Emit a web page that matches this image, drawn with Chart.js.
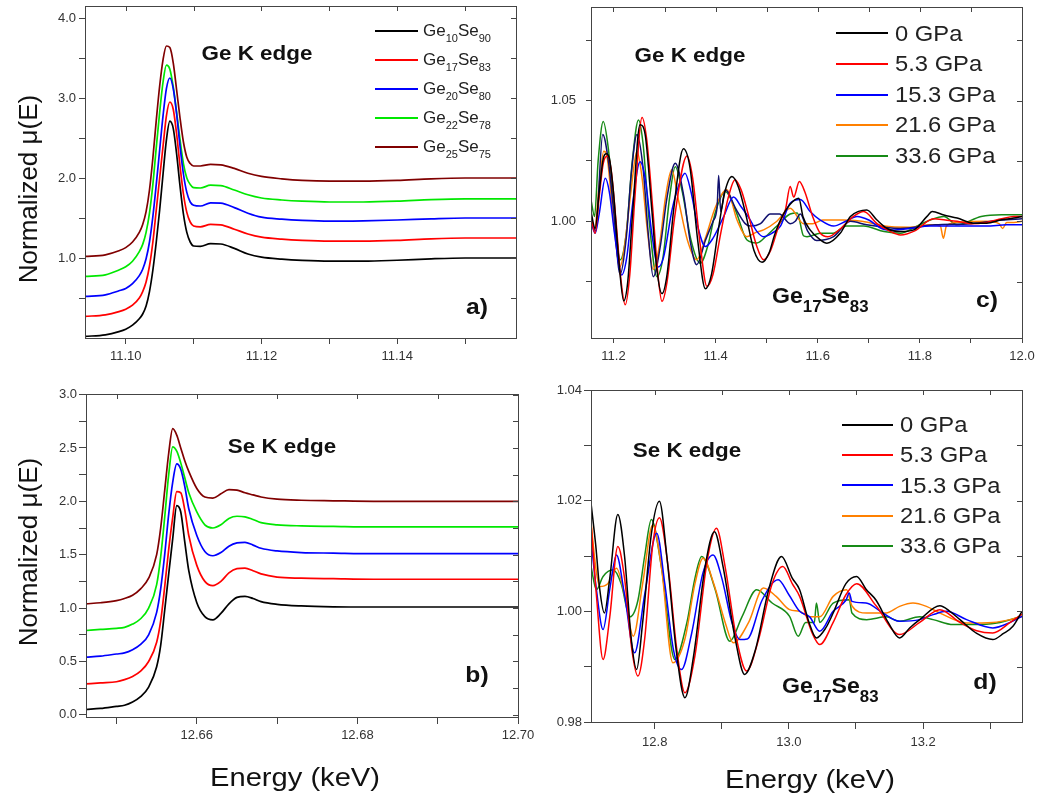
<!DOCTYPE html>
<html><head><meta charset="utf-8">
<script src="https://cdn.jsdelivr.net/npm/chart.js@4.4.1/dist/chart.umd.min.js"></script>
<style>
body{margin:0;background:#fff;}
#wrap{position:relative;width:1039px;height:795px;overflow:hidden;background:#fff;font-family:'Liberation Sans',Arial,Helvetica,sans-serif;}
canvas{position:absolute;left:0;top:0;}
.t{position:absolute;white-space:nowrap;color:#111;line-height:1;}
.c{transform:translate(-50%,-50%) scaleX(1.12);}
.b{font-weight:bold;}
.ytitle{font-size:26px;transform:translate(-50%,-50%) rotate(-90deg);}
.xtitle{font-size:26px;transform:translate(-50%,-50%) scaleX(1.12);}
.sub{line-height:0;}
.lg{position:absolute;height:2px;}
</style></head><body><div id="wrap">
<canvas id="ca" width="1039" height="795"></canvas>
<canvas id="cd" width="1039" height="795"></canvas>
<canvas id="cc" width="1039" height="795"></canvas>
<canvas id="cb" width="1039" height="795"></canvas>
</div>
<script>
const FONT = "'Liberation Sans', Arial, Helvetica, sans-serif";

// ---------------- Panel a: Ge K edge XANES ----------------
const aEnergy = [11.094, 11.097, 11.099, 11.100, 11.101, 11.102, 11.1025, 11.103, 11.1035, 11.104, 11.1045, 11.105, 11.1055, 11.106, 11.1065, 11.107, 11.1075, 11.108, 11.1085, 11.109, 11.1095, 11.110, 11.111, 11.1125, 11.114, 11.116, 11.118, 11.120, 11.123, 11.126, 11.130, 11.135, 11.140, 11.145, 11.150, 11.1575];
const aGe10Se90 = [0.02, 0.04, 0.08, 0.11, 0.16, 0.24, 0.30, 0.40, 0.58, 0.85, 1.20, 1.60, 2.05, 2.48, 2.71, 2.62, 2.30, 1.90, 1.55, 1.32, 1.20, 1.15, 1.145, 1.18, 1.175, 1.12, 1.05, 1.01, 0.985, 0.97, 0.96, 0.96, 0.972, 0.99, 1.0, 1.0];
const aGe17Se83 = [0.27, 0.29, 0.33, 0.36, 0.41, 0.50, 0.58, 0.70, 0.90, 1.20, 1.60, 2.00, 2.40, 2.78, 2.95, 2.86, 2.55, 2.15, 1.80, 1.57, 1.45, 1.40, 1.39, 1.42, 1.415, 1.36, 1.30, 1.26, 1.235, 1.22, 1.21, 1.21, 1.22, 1.24, 1.25, 1.25];
const aGe20Se80 = [0.52, 0.54, 0.59, 0.62, 0.68, 0.78, 0.86, 0.99, 1.20, 1.52, 1.92, 2.35, 2.78, 3.12, 3.25, 3.12, 2.80, 2.40, 2.05, 1.82, 1.70, 1.66, 1.65, 1.69, 1.685, 1.63, 1.56, 1.51, 1.485, 1.47, 1.46, 1.465, 1.475, 1.49, 1.50, 1.50];
const aGe22Se78 = [0.77, 0.79, 0.85, 0.89, 0.96, 1.08, 1.17, 1.32, 1.56, 1.92, 2.38, 2.82, 3.20, 3.41, 3.36, 3.14, 2.82, 2.48, 2.18, 2.00, 1.92, 1.88, 1.875, 1.91, 1.905, 1.85, 1.79, 1.75, 1.725, 1.71, 1.70, 1.70, 1.71, 1.73, 1.74, 1.74];
const aGe25Se75 = [1.02, 1.04, 1.09, 1.13, 1.20, 1.32, 1.42, 1.58, 1.85, 2.25, 2.72, 3.15, 3.48, 3.65, 3.63, 3.44, 3.10, 2.75, 2.45, 2.26, 2.18, 2.15, 2.15, 2.17, 2.165, 2.12, 2.06, 2.02, 1.99, 1.97, 1.96, 1.96, 1.97, 1.99, 2.0, 2.0];
const aXMajor = [11.10, 11.12, 11.14], aXMinor = [11.11, 11.13, 11.15];
const aYMajor = [1.0, 2.0, 3.0, 4.0], aYMinor = [0.5, 1.5, 2.5, 3.5];

// ---------------- Panel b: Se K edge XANES ----------------
const bEnergy = [12.6462, 12.648, 12.650, 12.651, 12.652, 12.653, 12.654, 12.655, 12.6555, 12.656, 12.6565, 12.657, 12.6575, 12.658, 12.6585, 12.659, 12.660, 12.661, 12.662, 12.663, 12.664, 12.665, 12.666, 12.667, 12.668, 12.670, 12.673, 12.677, 12.682, 12.690, 12.700];
const bGe10Se90 = [0.05, 0.06, 0.08, 0.09, 0.12, 0.17, 0.26, 0.45, 0.65, 0.98, 1.32, 1.65, 1.96, 1.90, 1.62, 1.35, 1.05, 0.92, 0.89, 0.95, 1.04, 1.10, 1.11, 1.09, 1.06, 1.035, 1.02, 1.012, 1.01, 1.01, 1.01];
const bGe17Se83 = [0.29, 0.30, 0.31, 0.33, 0.36, 0.41, 0.50, 0.68, 0.88, 1.20, 1.55, 1.85, 2.09, 2.08, 1.92, 1.68, 1.40, 1.25, 1.21, 1.25, 1.33, 1.37, 1.375, 1.35, 1.32, 1.29, 1.28, 1.275, 1.27, 1.27, 1.27];
const bGe20Se80 = [0.54, 0.55, 0.57, 0.58, 0.61, 0.66, 0.75, 0.96, 1.18, 1.50, 1.88, 2.18, 2.35, 2.30, 2.14, 1.93, 1.68, 1.53, 1.49, 1.52, 1.58, 1.61, 1.615, 1.59, 1.56, 1.535, 1.52, 1.515, 1.51, 1.51, 1.51];
const bGe22Se78 = [0.79, 0.80, 0.81, 0.82, 0.85, 0.90, 1.00, 1.22, 1.48, 1.85, 2.25, 2.51, 2.47, 2.36, 2.22, 2.08, 1.90, 1.78, 1.75, 1.78, 1.84, 1.86, 1.855, 1.83, 1.80, 1.78, 1.77, 1.765, 1.76, 1.76, 1.76];
const bGe25Se75 = [1.04, 1.05, 1.07, 1.09, 1.12, 1.18, 1.28, 1.50, 1.75, 2.10, 2.45, 2.68, 2.62, 2.50, 2.38, 2.28, 2.12, 2.04, 2.03, 2.07, 2.11, 2.105, 2.08, 2.06, 2.04, 2.02, 2.01, 2.005, 2.0, 2.0, 2.0];
const bXMajor = [12.66, 12.68, 12.70], bXMinor = [12.65, 12.67, 12.69];
const bYMajor = [0.0, 0.5, 1.0, 1.5, 2.0, 2.5, 3.0], bYMinor = [0.25, 0.75, 1.25, 1.75, 2.25, 2.75];

const compGe = [10, 17, 20, 22, 25];
const compSe = [90, 83, 80, 78, 75];
const xanesColors = ['#000000', '#ff0000', '#0000ff', '#00e800', '#800000'];

// ---------------- Panel c: Ge K edge EXAFS, Ge17Se83 vs pressure ----------------
const c0GPa = [[11.156,1.004],[11.164,0.997],[11.172,1.012],[11.18,1.026],[11.186,1.028],[11.192,1.026],[11.2,1.012],[11.21,0.985],[11.22,0.967],[11.228,0.975],[11.238,1.005],[11.252,1.040],[11.262,1.036],[11.275,1.005],[11.285,0.980],[11.295,0.970],[11.305,0.978],[11.318,1.005],[11.337,1.030],[11.35,1.022],[11.365,0.992],[11.38,0.972],[11.392,0.978],[11.405,0.996],[11.418,1.012],[11.432,1.0185],[11.445,1.014],[11.46,1.002],[11.475,0.988],[11.491,0.983],[11.505,0.987],[11.515,0.994],[11.527,1.0005],[11.546,1.007],[11.563,1.0095],[11.571,1.002],[11.585,0.9964],[11.605,0.9923],[11.618,0.9909],[11.644,0.995],[11.664,1.002],[11.68,1.0041],[11.696,1.0047],[11.716,1.0005],[11.736,0.997],[11.762,0.9957],[11.788,0.9964],[11.814,1.002],[11.824,1.004],[11.847,1.0026],[11.873,1.0013],[11.905,0.9992],[11.931,0.9992],[11.958,1.0005],[11.984,1.0013],[12.0,1.002]];
const c5GPa = [[11.156,1.002],[11.164,0.995],[11.172,1.010],[11.18,1.024],[11.188,1.027],[11.195,1.022],[11.205,1.000],[11.215,0.975],[11.223,0.9654],[11.232,0.978],[11.242,1.010],[11.256,1.043],[11.265,1.034],[11.277,1.005],[11.287,0.978],[11.295,0.9668],[11.305,0.975],[11.32,1.002],[11.344,1.027],[11.355,1.018],[11.37,0.990],[11.383,0.973],[11.395,0.978],[11.41,0.995],[11.425,1.010],[11.438,1.0172],[11.45,1.013],[11.465,1.002],[11.48,0.990],[11.494,0.984],[11.508,0.988],[11.525,0.999],[11.537,1.005],[11.546,1.0144],[11.553,1.010],[11.564,1.0165],[11.575,1.012],[11.59,1.002],[11.605,0.995],[11.62,0.9936],[11.645,0.997],[11.67,1.002],[11.69,1.004],[11.716,0.999],[11.74,0.996],[11.762,0.9943],[11.79,0.996],[11.827,1.001],[11.85,1.0005],[11.873,1.0],[11.9,0.999],[11.93,0.9995],[11.96,1.001],[11.984,1.002],[12.0,1.002]];
const c15GPa = [[11.156,1.000],[11.164,0.995],[11.172,1.003],[11.184,1.0178],[11.192,1.012],[11.202,0.995],[11.216,0.9777],[11.226,0.985],[11.238,1.008],[11.252,1.0247],[11.262,1.018],[11.275,0.995],[11.288,0.981],[11.298,0.985],[11.315,1.005],[11.328,1.015],[11.34,1.0199],[11.352,1.012],[11.366,0.997],[11.38,0.9895],[11.395,0.993],[11.416,1.002],[11.435,1.010],[11.45,1.006],[11.468,1.0005],[11.48,0.996],[11.494,0.9936],[11.51,0.995],[11.527,0.998],[11.546,1.0075],[11.566,1.009],[11.585,1.004],[11.605,1.0005],[11.631,0.998],[11.655,1.0],[11.677,1.002],[11.7,1.0005],[11.725,0.997],[11.745,0.9964],[11.78,0.997],[11.82,0.998],[11.873,0.998],[11.93,0.998],[11.97,0.9985],[12.0,0.9985]];
const c21GPa = [[11.156,1.000],[11.163,0.997],[11.172,1.015],[11.181,1.029],[11.188,1.026],[11.2,1.000],[11.213,0.9812],[11.222,0.990],[11.234,1.012],[11.246,1.029],[11.256,1.018],[11.267,0.995],[11.278,0.980],[11.29,0.990],[11.302,1.010],[11.314,1.0213],[11.327,1.009],[11.345,0.992],[11.363,0.984],[11.38,0.993],[11.4,1.006],[11.422,1.013],[11.442,1.0005],[11.461,0.9936],[11.48,0.9955],[11.494,0.9964],[11.52,1.000],[11.546,1.0054],[11.572,0.999],[11.59,0.999],[11.61,1.0005],[11.65,1.0005],[11.7,0.9995],[11.73,0.998],[11.78,0.9975],[11.82,0.9985],[11.84,0.998],[11.846,0.9929],[11.852,0.998],[11.873,0.9995],[11.93,1.0],[11.955,0.999],[11.962,0.997],[11.97,0.9995],[11.984,0.9995],[12.0,1.0]];
const c33GPa = [[11.156,1.0088],[11.163,1.002],[11.17,1.025],[11.18,1.0413],[11.19,1.030],[11.2,1.008],[11.213,0.984],[11.225,0.995],[11.237,1.025],[11.249,1.042],[11.258,1.032],[11.27,1.000],[11.285,0.977],[11.297,0.985],[11.31,1.010],[11.321,1.0226],[11.335,1.012],[11.352,0.992],[11.37,0.9826],[11.385,0.990],[11.4,1.004],[11.419,1.0123],[11.44,1.004],[11.461,0.9923],[11.481,0.991],[11.5,0.994],[11.52,0.998],[11.546,1.003],[11.56,1.0034],[11.572,0.994],[11.579,0.9936],[11.605,0.995],[11.63,0.995],[11.656,0.998],[11.69,0.998],[11.73,0.9957],[11.762,0.9950],[11.79,0.9975],[11.82,1.0005],[11.847,1.002],[11.873,0.9985],[11.92,1.002],[11.96,1.0027],[12.0,1.0027]];
const cUnlabelled = [[11.156,1.001],[11.165,0.996],[11.179,1.036],[11.19,1.025],[11.2,1.005],[11.213,0.978],[11.225,0.993],[11.235,1.020],[11.246,1.036],[11.258,1.022],[11.268,0.995],[11.278,0.977],[11.292,0.990],[11.305,1.010],[11.321,1.024],[11.338,1.010],[11.35,0.992],[11.363,0.982],[11.38,0.992],[11.395,1.000],[11.403,1.006],[11.406,1.019],[11.41,1.004],[11.419,1.013],[11.44,1.005],[11.458,0.999],[11.468,0.998],[11.488,0.999],[11.507,1.003],[11.525,1.003],[11.546,0.999],[11.556,1.0],[11.566,1.003],[11.58,0.996],[11.598,0.992],[11.631,0.9936],[11.664,1.0],[11.696,0.9985],[11.762,0.997],[11.83,0.9985],[11.9,0.999],[11.96,1.0005],[12.0,1.001]];
const cXMajor = [11.2, 11.4, 11.6, 11.8, 12.0], cXMinor = [11.3, 11.5, 11.7, 11.9];
const cYMajor = [1.00, 1.05], cYMinor = [0.975, 1.025, 1.075];

// ---------------- Panel d: Se K edge EXAFS, Ge17Se83 vs pressure ----------------
const d0GPa = [[12.705,1.0196],[12.712,1.012],[12.718,1.004],[12.725,0.9997],[12.733,1.006],[12.745,1.0175],[12.755,1.010],[12.765,0.995],[12.773,0.9895],[12.782,0.998],[12.795,1.014],[12.807,1.0199],[12.818,1.010],[12.832,0.993],[12.845,0.9844],[12.858,0.992],[12.875,1.008],[12.889,1.0144],[12.902,1.008],[12.92,0.995],[12.934,0.9886],[12.95,0.993],[12.97,1.004],[12.989,1.0099],[13.005,1.006],[13.016,1.0039],[13.03,0.998],[13.041,0.9952],[13.055,0.997],[13.066,0.9997],[13.085,1.005],[13.101,1.0063],[13.115,1.004],[13.13,1.002],[13.148,0.998],[13.165,0.9952],[13.18,0.997],[13.195,0.9985],[13.225,1.001],[13.24,1.0],[13.255,0.9985],[13.28,0.996],[13.304,0.9949],[13.32,0.996],[13.334,0.9973],[13.3475,1.0]];
const d5GPa = [[12.705,1.016],[12.713,1.003],[12.723,0.9913],[12.733,0.999],[12.745,1.0117],[12.755,1.006],[12.766,0.993],[12.775,0.9883],[12.785,0.995],[12.797,1.012],[12.807,1.0169],[12.82,1.008],[12.833,0.993],[12.845,0.9853],[12.86,0.992],[12.878,1.009],[12.892,1.015],[12.905,1.008],[12.922,0.995],[12.937,0.9892],[12.955,0.995],[12.975,1.005],[12.991,1.0081],[13.005,1.005],[13.016,1.0027],[13.035,0.996],[13.046,0.994],[13.066,0.998],[13.085,1.003],[13.101,1.005],[13.13,1.001],[13.165,0.9958],[13.195,0.998],[13.225,1.0003],[13.255,0.998],[13.28,0.9965],[13.304,0.9961],[13.33,0.998],[13.3475,0.9995]];
const d15GPa = [[12.705,1.0129],[12.713,1.004],[12.723,0.9967],[12.733,1.004],[12.743,1.0102],[12.755,1.003],[12.77,0.9925],[12.785,1.003],[12.803,1.0141],[12.815,1.005],[12.828,0.993],[12.84,0.9895],[12.855,0.996],[12.872,1.007],[12.887,1.0102],[12.9,1.006],[12.915,0.998],[12.927,0.9949],[12.938,0.995],[12.96,1.002],[12.984,1.0057],[13.0,1.003],[13.016,1.0],[13.031,0.999],[13.046,0.9964],[13.066,1.0],[13.085,1.002],[13.09,1.0033],[13.094,1.0018],[13.115,1.0015],[13.14,0.9997],[13.165,0.9982],[13.195,0.9985],[13.215,0.9994],[13.235,1.0],[13.265,0.9985],[13.304,0.997],[13.33,0.998],[13.3475,0.9991]];
const d21GPa = [[12.705,1.0162],[12.712,1.008],[12.718,1.0045],[12.73,1.005],[12.743,1.0078],[12.755,1.003],[12.768,0.9955],[12.782,1.005],[12.797,1.0156],[12.81,1.008],[12.827,0.9907],[12.845,0.995],[12.86,1.005],[12.872,1.0096],[12.888,1.005],[12.905,0.998],[12.917,0.9943],[12.94,0.998],[12.962,1.0042],[12.981,1.0027],[13.001,1.0003],[13.016,1.0],[13.031,0.999],[13.046,0.999],[13.066,1.0027],[13.086,1.0039],[13.094,1.001],[13.116,0.9997],[13.145,0.9997],[13.165,1.0009],[13.185,1.0015],[13.205,1.0009],[13.225,0.9997],[13.265,0.9979],[13.304,0.998],[13.33,0.9985],[13.3475,0.9991]];
const d33GPa = [[12.705,1.0081],[12.713,1.0039],[12.723,1.0063],[12.738,1.0075],[12.75,1.005],[12.763,0.999],[12.775,1.002],[12.785,1.010],[12.795,1.0166],[12.81,1.008],[12.83,0.9913],[12.848,0.998],[12.86,1.006],[12.87,1.0099],[12.89,1.004],[12.912,0.9946],[12.93,0.999],[12.952,1.0039],[12.975,1.0015],[13.001,0.9991],[13.014,0.9955],[13.025,0.998],[13.038,0.998],[13.041,1.0015],[13.046,0.998],[13.066,1.0015],[13.09,1.0021],[13.094,0.9997],[13.116,0.9985],[13.145,0.999],[13.165,0.9982],[13.195,0.999],[13.215,0.9985],[13.245,0.9976],[13.275,0.9976],[13.31,0.9979],[13.3475,0.9991]];
const dXMajor = [12.8, 13.0, 13.2], dXMinor = [12.9, 13.1, 13.3];
const dYMajor = [0.98, 1.00, 1.02, 1.04], dYMinor = [0.99, 1.01, 1.03];

const pressures = ['0 GPa', '5.3 GPa', '15.3 GPa', '21.6 GPa', '33.6 GPa'];
const exafsColors = ['#000000', '#ff0000', '#0000ff', '#ff8000', '#168a16'];
const unlabelledColor = '#10106e';

// ---------------- helpers ----------------
const isIn = (arr, v) => arr.some(m => Math.abs(m - v) < 1e-9);
function axis(isX, min, max, majors, minors, dec, tickLen, pad) {
  const all = majors.concat(minors).sort((p, q) => p - q);
  return {
    type: 'linear', min, max,
    afterBuildTicks: s => { s.ticks = all.map(v => ({ value: v })); },
    ticks: { autoSkip: false, maxRotation: 0, padding: pad, color: '#333',
      font: { family: FONT, size: 13 },
      callback: v => isIn(majors, v) ? Number(v).toFixed(dec) : '' },
    grid: { drawOnChartArea: false, tickLength: tickLen, color: '#444', tickColor: '#444' },
    border: { color: '#444', width: 1 },
    afterFit: s => {
      if (isX) { s.height = 30; s.paddingLeft = 0; s.paddingRight = 0; }
      else { s.width = 60; s.paddingTop = 0; s.paddingBottom = 0; }
    }
  };
}
const framePlugin = {
  id: 'frame',
  afterDraw(chart) {
    const { ctx, chartArea: { left, right, top, bottom }, scales: { x, y } } = chart;
    ctx.save();
    ctx.strokeStyle = '#444'; ctx.lineWidth = 1;
    ctx.strokeRect(Math.round(left) + 0.5, Math.round(top) + 0.5, Math.round(right - left), Math.round(bottom - top));
    ctx.beginPath();
    y.ticks.forEach(t => { const p = Math.round(y.getPixelForValue(t.value)) + 0.5; ctx.moveTo(right, p); ctx.lineTo(right - 5, p); });
    x.ticks.forEach(t => { const p = Math.round(x.getPixelForValue(t.value)) + 0.5; ctx.moveTo(p, top); ctx.lineTo(p, top + 5); });
    ctx.stroke();
    ctx.restore();
  }
};
function ds(label, pts, color, width) {
  return { label, data: pts, borderColor: color, backgroundColor: color, borderWidth: width,
    pointRadius: 0, fill: false, cubicInterpolationMode: 'monotone' };
}
function make(id, datasets, xAx, yAx, pad) {
  return new Chart(document.getElementById(id), {
    type: 'line',
    data: { datasets },
    options: {
      responsive: false, animation: false, events: [],
      layout: { padding: pad },
      plugins: { legend: { display: false }, tooltip: { enabled: false } },
      scales: { x: xAx, y: yAx }
    },
    plugins: [framePlugin]
  });
}
const zipXY = (xs, ys) => xs.map((x, i) => ({ x, y: ys[i] }));
const pairs = arr => arr.map(([x, y]) => ({ x, y }));

// ---------------- charts ----------------
const aSeries = [aGe10Se90, aGe17Se83, aGe20Se80, aGe22Se78, aGe25Se75];
make('ca', aSeries.map((s, i) => ds(`Ge${compGe[i]}Se${compSe[i]}`, zipXY(aEnergy, s), xanesColors[i], 1.7)),
  axis(true, 11.094, 11.1575, aXMajor, aXMinor, 2, 6, 5),
  axis(false, 0.0, 4.15, aYMajor, aYMinor, 1, 6, 3),
  { left: 25, top: 6, right: 523, bottom: 427 });

const bSeries = [bGe10Se90, bGe17Se83, bGe20Se80, bGe22Se78, bGe25Se75];
make('cb', bSeries.map((s, i) => ds(`Ge${compGe[i]}Se${compSe[i]}`, zipXY(bEnergy, s), xanesColors[i], 1.7)),
  axis(true, 12.6462, 12.70, bXMajor, bXMinor, 2, 7, 4),
  axis(false, -0.02, 3.005, bYMajor, bYMinor, 1, 7, 2),
  { left: 26, top: 394, right: 521, bottom: 48 });

const cSeries = [c0GPa, c5GPa, c15GPa, c21GPa, c33GPa];
const cDs = cSeries.map((s, i) => ds(pressures[i], pairs(s), exafsColors[i], 1.5));
cDs.splice(3, 0, ds('', pairs(cUnlabelled), unlabelledColor, 1.5));
make('cc', cDs,
  axis(true, 11.156, 12.0, cXMajor, cXMinor, 1, 5, 6),
  axis(false, 0.9516, 1.0888, cYMajor, cYMinor, 2, 5, 10),
  { left: 531, top: 7, right: 17, bottom: 427 });

const dSeries = [d0GPa, d5GPa, d15GPa, d21GPa, d33GPa];
make('cd', dSeries.map((s, i) => ds(pressures[i], pairs(s), exafsColors[i], 1.5)),
  axis(true, 12.705, 13.3475, dXMajor, dXMinor, 1, 7, 6),
  axis(false, 0.98, 1.04, dYMajor, dYMinor, 2, 7, 2),
  { left: 531, top: 390, right: 17, bottom: 43 });

// ---------------- text: titles, annotations, legends ----------------
const wrap = document.getElementById('wrap');
function txt(html, left, top, cls, style) {
  const d = document.createElement('div');
  d.className = 't ' + (cls || '');
  d.innerHTML = html;
  d.style.left = left + 'px'; d.style.top = top + 'px';
  if (style) Object.assign(d.style, style);
  wrap.appendChild(d);
  return d;
}
txt('Normalized &mu;(E)', 28, 189, 'ytitle');
txt('Normalized &mu;(E)', 28, 552, 'ytitle');
txt('Energy (keV)', 295, 777, 'xtitle');
txt('Energy (keV)', 810, 779, 'xtitle');

const ann = { fontSize: '20px' };
txt('Ge K edge', 257, 53, 'b c', ann);
txt('Se K edge', 282, 446, 'b c', ann);
txt('Ge K edge', 690, 55, 'b c', ann);
txt('Se K edge', 687, 450, 'b c', ann);
const lab = { fontSize: '22px' };
txt('a)', 477, 307, 'b c', lab);
txt('b)', 477, 675, 'b c', lab);
txt('c)', 987, 300, 'b c', lab);
txt('d)', 985, 682, 'b c', lab);
const compo = 'Ge<span class="sub" style="font-size:16px;vertical-align:-9px">17</span>Se<span class="sub" style="font-size:16px;vertical-align:-9px">83</span>';
const compStyle = { fontSize: '22px', transform: 'scaleX(1.05)', transformOrigin: 'left center' };
txt(compo, 772, 285, 'b', compStyle);
txt(compo, 782, 675, 'b', compStyle);

function legend(labels, colors, x1, x2, lx, y0, step, fs, scale) {
  labels.forEach((l, i) => {
    const y = y0 + i * step;
    const ln = document.createElement('div');
    ln.className = 'lg';
    Object.assign(ln.style, { left: x1 + 'px', top: (y - 1) + 'px', width: (x2 - x1) + 'px', background: colors[i] });
    wrap.appendChild(ln);
    txt(l, lx, y - 0.49 * fs, '', { fontSize: fs + 'px', color: '#222', transform: `scaleX(${scale})`, transformOrigin: 'left center' });
  });
}
legend(compGe.map((g, i) => `Ge<span class="sub" style="font-size:11px;vertical-align:-6px">${g}</span>Se<span class="sub" style="font-size:11px;vertical-align:-6px">${compSe[i]}</span>`),
  xanesColors, 375, 418, 423, 30.7, 29, 17, 1.0);
legend(pressures, exafsColors, 836, 888, 895, 33.3, 30.6, 22, 1.08);
legend(pressures, exafsColors, 842, 893, 900, 425, 30.2, 22, 1.08);
</script>
</body></html>
